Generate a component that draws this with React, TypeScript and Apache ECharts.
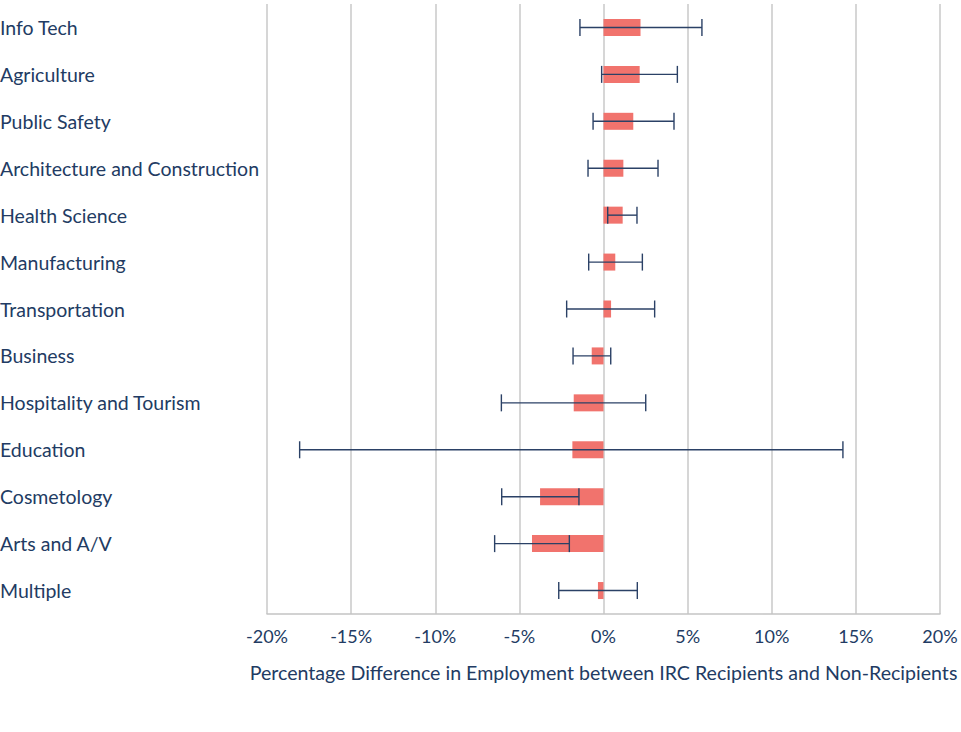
import React, { useEffect, useRef } from "react";
import * as echarts from "echarts";

const categories = [
  "Info Tech",
  "Agriculture",
  "Public Safety",
  "Architecture and Construction",
  "Health Science",
  "Manufacturing",
  "Transportation",
  "Business",
  "Hospitality and Tourism",
  "Education",
  "Cosmetology",
  "Arts and A/V",
  "Multiple",
];

const diffValues = [2.2, 2.15, 1.77, 1.18, 1.14, 0.7, 0.45, -0.7, -1.77, -1.85, -3.77, -4.25, -0.33];
const errLow = [-1.4, -0.11, -0.62, -0.92, 0.25, -0.88, -2.19, -1.81, -6.07, -18.06, -6.05, -6.47, -2.66];
const errHigh = [5.85, 4.39, 4.19, 3.24, 1.99, 2.31, 3.04, 0.43, 2.51, 14.23, -1.46, -2.03, 2.01];

const TEXT = "#223b63";
const FONT = "Lato, 'Open Sans', sans-serif";

export default function App() {
  const ref = useRef<HTMLDivElement>(null);
  useEffect(() => {
    if (!ref.current) return;
    const chart = echarts.init(ref.current, null, { renderer: "svg" });
    const errData = categories.map((_, i) => [i, errLow[i], errHigh[i]]);
    chart.setOption({
      animation: false,
      grid: {
        left: 267,
        right: 21,
        top: 4,
        bottom: 118,
        containLabel: false,
        outerBoundsMode: "none",
      },
      xAxis: {
        type: "value",
        min: -20,
        max: 20,
        interval: 5,
        name: "Percentage Difference in Employment between IRC Recipients and Non-Recipients",
        nameLocation: "middle",
        nameGap: 48,
        nameTextStyle: { color: TEXT, fontSize: 19.6, fontFamily: FONT },
        axisLine: { show: true, lineStyle: { color: "#c4c4c4", width: 1.5 } },
        axisTick: { show: false },
        axisLabel: {
          color: TEXT,
          fontSize: 18,
          fontFamily: FONT,
          margin: 13,
          formatter: (v: number) => `${v}%`,
        },
        splitLine: { show: true, lineStyle: { color: "#c8c8c8", width: 1.5 } },
      },
      yAxis: {
        type: "category",
        data: categories,
        inverse: true,
        axisLine: { show: false },
        axisTick: { show: false },
        splitLine: { show: false },
        axisLabel: {
          color: TEXT,
          fontSize: 19.5,
          fontFamily: FONT,
          align: "left",
          margin: 267,
          padding: [3, 0, 0, 0],
        },
      },
      series: [
        {
          type: "bar",
          data: diffValues,
          barWidth: 17,
          itemStyle: { color: "#f1736d" },
          z: 2,
        },
        {
          type: "custom",
          data: errData,
          z: 3,
          renderItem: (params: any, api: any) => {
            const idx = api.value(0);
            const lo = api.coord([api.value(1), idx]);
            const hi = api.coord([api.value(2), idx]);
            const h = 8.5;
            const style = { stroke: "#2b4166", lineWidth: 1.4 };
            return {
              type: "group",
              children: [
                { type: "line", shape: { x1: lo[0], y1: lo[1], x2: hi[0], y2: hi[1] }, style },
                { type: "line", shape: { x1: lo[0], y1: lo[1] - h, x2: lo[0], y2: lo[1] + h }, style },
                { type: "line", shape: { x1: hi[0], y1: hi[1] - h, x2: hi[0], y2: hi[1] + h }, style },
              ],
            };
          },
        },
      ],
    });
    return () => chart.dispose();
  }, []);
  return (
    <div
      ref={ref}
      style={{ position: "absolute", left: 0, top: 0, width: 961, height: 732 }}
    />
  );
}
